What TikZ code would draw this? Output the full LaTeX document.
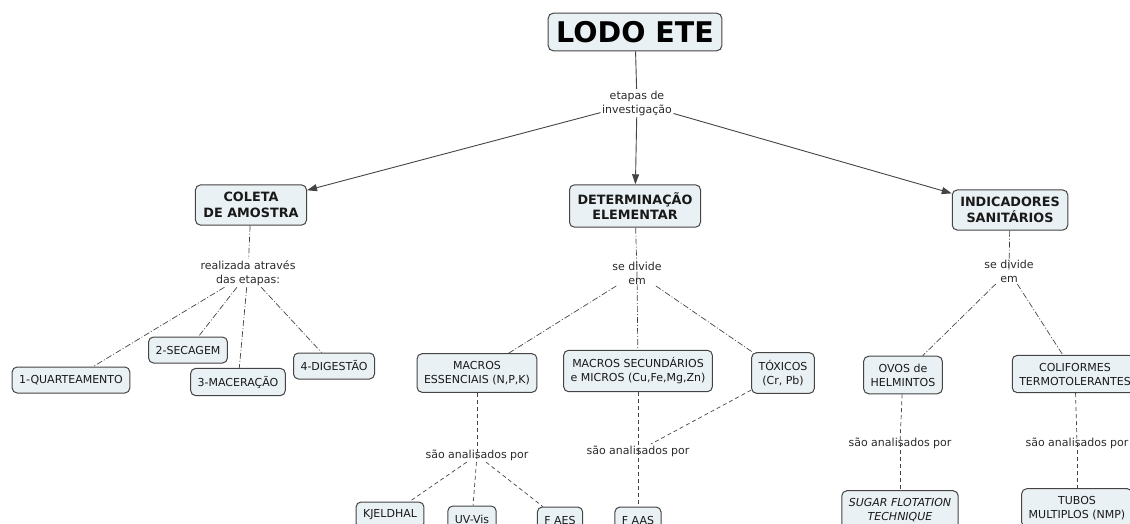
\documentclass[tikz,border=0pt]{standalone}
\usepackage{fontspec}
\setmainfont{DejaVu Sans}
\usepackage{xcolor}
\usepackage{tikz}
\usetikzlibrary{arrows.meta}
\definecolor{cmapfill}{HTML}{EAF1F4}
\definecolor{cmapline}{HTML}{444444}
\definecolor{cmaptext}{HTML}{2A2A2A}
\tikzset{
   concept/.style={
      draw=cmapline,
      line width=1pt,
      fill=cmapfill,
      rounded corners=5pt,
      align=center,
      font=\fontsize{11}{14}\selectfont,
      text=black!90,
      inner xsep=7pt,
      inner ysep=7.5pt,
      minimum height=26pt},
   main concept/.style={concept, font=\bfseries\fontsize{12.8}{15.5}\selectfont, inner xsep=8pt},
   root concept/.style={concept, text=black, font=\bfseries\fontsize{28.5}{30}\selectfont, inner xsep=8pt, inner ysep=8pt},
   link phrase/.style={
      align=center,
      font=\fontsize{11}{14}\selectfont,
      text=cmaptext,
      inner sep=1.5pt},
   solid link/.style={draw=cmapline, line width=0.9pt},
   arrow link/.style={solid link, -{Triangle[length=10pt,width=7pt]}},
   dashdot link/.style={draw=cmapline, line width=0.7pt, dash pattern=on 6pt off 2pt on 1pt off 2pt},
   dash link/.style={draw=cmapline, line width=0.7pt, dash pattern=on 4pt off 3pt}
}
\begin{document}
\begin{tikzpicture}[x=1pt, y=-1pt]
        \useasboundingbox (0,0) rectangle (1130,524);
        \clip (0,0) rectangle (1130,524);

        % Root and first level
        \node[root concept] (lodo) at (635,32) {LODO ETE};
        \node[link phrase] (etapas) at (637,103) {etapas de\\investigação};
        \node[main concept] (coleta) at (251,205) {COLETA\\DE AMOSTRA};
        \node[main concept] (determ) at (635,206) {DETERMINAÇÃO\\ELEMENTAR};
        \node[main concept] (indic) at (1010,210) {INDICADORES\\SANITÁRIOS};

        \draw[solid link] (lodo) -- (etapas);
        \draw[arrow link] (etapas) -- (coleta);
        \draw[arrow link] (etapas) -- (determ);
        \draw[arrow link] (etapas) -- (indic);

        % Coleta de amostra
        \node[link phrase] (realiz) at (248,273) {realizada através\\das etapas:};
        \node[concept] (quart) at (71,380) {1-QUARTEAMENTO};
        \node[concept] (secag) at (188,350) {2-SECAGEM};
        \node[concept] (macer) at (238,382) {3-MACERAÇÃO};
        \node[concept] (diges) at (334,366) {4-DIGESTÃO};

        \draw[dashdot link] (coleta) -- (realiz);
        \draw[dashdot link] (realiz) -- (quart);
        \draw[dashdot link] (realiz) -- (secag);
        \draw[dashdot link] (realiz) -- (macer);
        \draw[dashdot link] (realiz) -- (diges);

        % Determinacao elementar
        \node[link phrase] (divdet) at (637,273) {se divide\\em};
        \node[concept] (macess) at (477,373) {MACROS\\ESSENCIAIS (N,P,K)};
        \node[concept] (macsec) at (638,371) {MACROS SECUNDÁRIOS\\e MICROS (Cu,Fe,Mg,Zn)};
        \node[concept] (toxic) at (783,373) {TÓXICOS\\(Cr, Pb)};

        \draw[dashdot link] (determ) -- (divdet.center);
        \draw[dashdot link] (divdet.center) -- (macsec);
        \draw[dashdot link] (divdet) -- (macess);
        \draw[dashdot link] (divdet) -- (toxic);

        \node[link phrase] (anaess) at (477,455) {são analisados por};
        \node[link phrase] (anasec) at (638,451) {são analisados por};
        \node[concept] (kjeld) at (390,515) {KJELDHAL};
        \node[concept] (uvvis) at (472,519) {UV-Vis};
        \node[concept] (faes) at (560,520) {F AES};
        \node[concept] (faas) at (638,520) {F AAS};

        \draw[dash link] (macess) -- (anaess.center);
        \draw[dash link] (anaess.center) -- (uvvis);
        \draw[dash link] (anaess) -- (kjeld);
        \draw[dash link] (anaess) -- (faes);
        \draw[dash link] (macsec) -- (anasec.center);
        \draw[dash link] (anasec.center) -- (faas);
        \draw[dash link] (toxic) -- (anasec);

        % Indicadores sanitarios
        \node[link phrase] (divind) at (1009,271) {se divide\\em};
        \node[concept] (ovos) at (903,375) {OVOS de\\HELMINTOS};
        \node[concept] (colif) at (1075,374) {COLIFORMES\\TERMOTOLERANTES};

        \draw[dashdot link] (indic) -- (divind.center);
        \draw[dashdot link] (divind) -- (ovos);
        \draw[dashdot link] (divind) -- (colif);

        \node[link phrase] (anaovo) at (900,443) {são analisados por};
        \node[link phrase] (anacol) at (1077,443) {são analisados por};
        \node[concept] (sugar) at (900,510) {\itshape SUGAR FLOTATION\\\itshape TECHNIQUE};
        \node[concept] (tubos) at (1077,508) {TUBOS\\MULTIPLOS (NMP)};

        \draw[dash link] (ovos) -- (anaovo.center);
        \draw[dash link] (anaovo.center) -- (sugar);
        \draw[dash link] (colif) -- (anacol.center);
        \draw[dash link] (anacol.center) -- (tubos);
    \end{tikzpicture}
\end{document}
